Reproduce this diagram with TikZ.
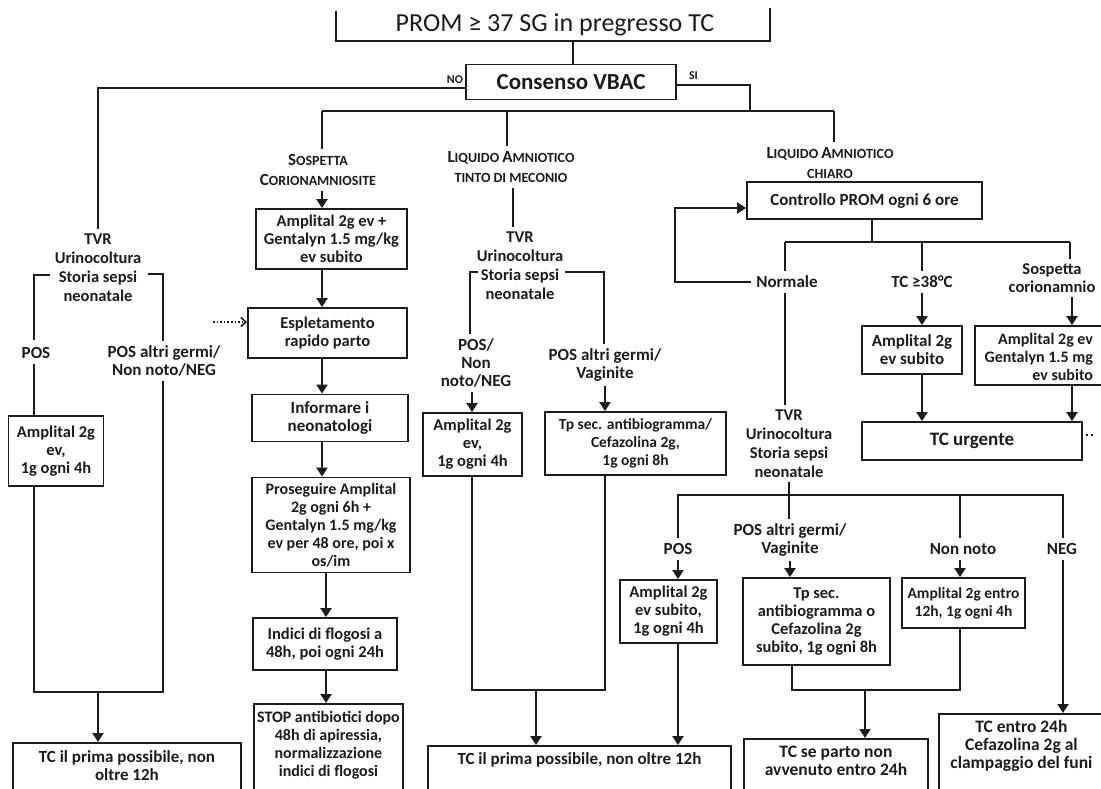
\documentclass[tikz,border=0pt]{standalone}
\usepackage{fontspec}
\setmainfont{Carlito}
\usetikzlibrary{arrows.meta}
\definecolor{ink}{HTML}{1C1C1C}
\newcommand\SCbig[1]{{\fontsize{17}{20}\selectfont #1}}
\newcommand\SCsm[1]{{\fontsize{14}{20}\selectfont #1}}
\begin{document}
\begin{tikzpicture}[x=1pt,y=-1pt,
  ln/.style={draw=ink, line width=2.3pt},
  arr/.style={ln, -{Triangle[length=9pt,width=11pt]}},
  fsz/.style={font=\bfseries\fontsize{#1}{18}\selectfont},
  bx/.style={draw=ink, line width=1.9pt, inner sep=3pt, align=center, text=ink, fsz=16.5},
  lbl/.style={inner sep=2pt, outer sep=3pt, align=center, text=ink, fsz=17},
  tvr/.style={lbl, font=\bfseries\fontsize{16.5}{19}\selectfont},
  head/.style={inner sep=2pt, outer sep=3pt, align=center, text=ink, font=\bfseries\fontsize{14}{20}\selectfont}]
\useasboundingbox (0,0) rectangle (1101,789);
\fill[white] (0,0) rectangle (1101,789);
\clip (0,0) rectangle (1101,789);

% ---------- top ----------
\node[inner sep=0pt, text=ink, font=\fontsize{26}{28}\selectfont] (title) at (555,25) {PROM ≥ 37 SG in pregresso TC};
\draw[draw=ink, line width=1.9pt] (336,11) -- (336,41) -- (770,41) -- (770,8);
\coordinate (tbot) at (573,41);
\node[bx, font=\bfseries\fontsize{23}{25}\selectfont, minimum width=210pt, minimum height=35pt] (cons) at (571,82) {Consenso VBAC};
\node[lbl, outer sep=0pt, inner sep=1pt, anchor=east, font=\bfseries\fontsize{12}{13}\selectfont] (no) at (464,80) {NO};
\node[lbl, outer sep=0pt, inner sep=1pt, anchor=west, font=\bfseries\fontsize{12}{13}\selectfont] (si) at (688,76) {SI};
\draw[ln] (tbot) -- (tbot |- cons.north);

% ---------- headings ----------
\node[head] (sosp) at (318,170) {\SCbig{S}\SCsm{OSPETTA}\\\SCbig{C}\SCsm{ORIONAMNIOSITE}};
\node[head] (liqT) at (511,167) {\SCbig{L}\SCsm{IQUIDO} \SCbig{A}\SCsm{MNIOTICO}\\\SCsm{TINTO DI MECONIO}};
\node[head] (liqC) at (830,163) {\SCbig{L}\SCsm{IQUIDO} \SCbig{A}\SCsm{MNIOTICO}\\\SCsm{CHIARO}};

% ---------- left column ----------
\node[tvr] (tvrL) at (98,268) {TVR\\Urinocoltura\\Storia sepsi\\neonatale};
\node[lbl] (posL) at (36,353) {POS};
\node[lbl] (posLR) at (164,361) {POS altri germi/\\Non noto/NEG};
\node[bx, minimum width=95pt, minimum height=70pt] (ampL) at (56,451) {Amplital 2g\\ev,\\1g ogni 4h};
\node[bx, anchor=north west, minimum width=228pt, minimum height=90pt,
  label={[lbl, anchor=north, yshift=-4pt]north:{TC il prima possibile, non\\oltre 12h}}] (tcL) at (12,742) {};

% ---------- Sospetta corionamniosite column ----------
\node[bx, minimum width=151pt, minimum height=60pt] (amp1) at (331.5,239) {Amplital 2g ev +\\Gentalyn 1.5 mg/kg\\ev subito};
\node[bx, fsz=16.5, minimum width=159pt, minimum height=50pt] (espl) at (327.5,333) {Espletamento\\rapido parto};
\node[bx, fsz=17, minimum width=156pt, minimum height=47pt] (info) at (330,418) {Informare i\\neonatologi};
\node[bx, fsz=16, minimum width=158pt, minimum height=95pt] (pros) at (331,525) {Proseguire Amplital\\2g ogni 6h +\\Gentalyn 1.5 mg/kg\\ev per 48 ore, poi x\\os/im};
\node[bx, fsz=16.5, minimum width=144pt, minimum height=52pt] (indici) at (325,644) {Indici di flogosi a\\48h, poi ogni 24h};
\node[bx, anchor=north west, minimum width=149pt, minimum height=100pt,
  label={[lbl, fsz=16, anchor=north, yshift=-3pt]north:{STOP antibiotici dopo\\48h di apiressia,\\normalizzazione\\indici di flogosi}}] (stop) at (253,703) {};

% ---------- liquido tinto column ----------
\node[tvr] (tvrM) at (520,266) {TVR\\Urinocoltura\\Storia sepsi\\neonatale};
\node[lbl] (posM) at (476,363) {POS/\\Non\\noto/NEG};
\node[lbl] (pgM) at (605,365) {POS altri germi/\\Vaginite};
\node[bx, minimum width=99pt, minimum height=63pt] (ampM) at (472.5,444.5) {Amplital 2g\\ev,\\1g ogni 4h};
\node[bx, fsz=15.5, minimum width=181pt, minimum height=63pt] (tpM) at (635.5,443.5) {Tp sec. antibiogramma/\\Cefazolina 2g,\\1g ogni 8h};
\node[bx, anchor=north west, minimum width=303pt, minimum height=80pt,
  label={[lbl, anchor=north, yshift=-3pt]north:{TC il prima possibile, non oltre 12h}}] (tcM) at (427,745) {};

% ---------- liquido chiaro column ----------
\node[bx, fsz=17, minimum width=235pt, minimum height=37pt] (ctrl) at (864.5,200.5) {Controllo PROM ogni 6 ore};
\node[lbl] (norm) at (787,282) {Normale};
\node[lbl] (tc38) at (922,282) {TC ≥38°C};
\node[lbl, fsz=16.5] (so2) at (1052,278) {Sospetta\\corionamnio};
\node[bx, fsz=17, minimum width=100pt, minimum height=48pt] (ampT) at (912,350) {Amplital 2g\\ev subito};
\node[bx, minimum width=180pt, minimum height=59pt] (ampS) at (1065,355.5) {};
\node[lbl, fsz=16, align=right, anchor=east, inner sep=0pt, outer sep=0pt] (ampSt) at (1093,357) {Amplital 2g ev\\Gentalyn 1.5 mg\\ev subito};
\node[bx, fsz=19, minimum width=220pt, minimum height=38pt] (tcU) at (972,441) {TC urgente};
\node[tvr] (tvrR) at (789,443.5) {TVR\\Urinocoltura\\Storia sepsi\\neonatale};
\node[lbl] (posR) at (678,549) {POS};
\node[lbl] (pgR) at (790,540) {POS altri germi/\\Vaginite};
\node[lbl] (nnR) at (963,549) {Non noto};
\node[lbl] (negR) at (1062,549) {NEG};
\node[bx, minimum width=97pt, minimum height=63pt] (ampP) at (668.5,611.5) {Amplital 2g\\ev subito,\\1g ogni 4h};
\node[bx, minimum width=147pt, minimum height=87pt] (tpR) at (816.5,621.5) {Tp sec.\\antibiogramma o\\Cefazolina 2g\\subito, 1g ogni 8h};
\node[bx, fsz=15.5, minimum width=123pt, minimum height=50pt] (ampE) at (963.5,603) {Amplital 2g entro\\12h, 1g ogni 4h};
\node[bx, anchor=north west, minimum width=184pt, minimum height=80pt,
  label={[lbl, fsz=17.5, anchor=north, yshift=-3pt]north:{TC se parto non\\avvenuto entro 24h}}] (tcR) at (743,738) {};
\node[bx, anchor=north west, minimum width=175pt, minimum height=100pt,
  label={[lbl, fsz=17.5, anchor=north, yshift=-2pt, xshift=-5pt]north:{TC entro 24h\\Cefazolina 2g al\\clampaggio del funi}}] (tcN) at (938,713) {};

% ---------- connectors: top ----------
\coordinate (nL) at (98,88);
\draw[ln] (cons.west |- nL) -- (nL) -- (tvrL.north);
\coordinate (siC) at (750,85);
\coordinate (jSI) at (750,111);
\coordinate (jS) at (322,111);
\coordinate (jT) at (507,111);
\coordinate (jC) at (834,111);
\draw[ln] (cons.east |- siC) -- (siC) -- (jSI);
\draw[ln] (jS) -- (jC);
\draw[ln] (jS) -- (jS |- sosp.north);
\draw[ln] (jT) -- (jT |- liqT.north);
\draw[ln] (jC) -- (jC |- liqC.north);

% ---------- connectors: left ----------
\coordinate (bL1) at (50,275);
\coordinate (bL2) at (34,275);
\coordinate (bL3) at (34,340);
\draw[ln] (bL1) -- (bL2) -- (bL3);
\draw[ln] (posL.south -| bL2) -- (bL2 |- ampL.north);
\coordinate (bR1) at (148,274);
\coordinate (bR2) at (163,274);
\draw[ln] (bR1) -- (bR2) -- (bR2 |- posLR.north);
\coordinate (jL1) at (34,692);
\coordinate (jL2) at (163,692);
\coordinate (jLm) at (98,692);
\draw[ln] (ampL.south -| jL1) -- (jL1) -- (jL2) -- (posLR.south -| jL2);
\draw[arr] (jLm) -- (jLm |- tcL.north);

% ---------- connectors: sospetta ----------
\coordinate (cS2) at (326,600);
\draw[arr] (sosp.south -| jS) -- (jS |- amp1.north);
\draw[arr] (amp1.south -| jS) -- (jS |- espl.north);
\coordinate (dotS) at (213,322);
\draw[ln, line width=1.6pt, dotted, -{Straight Barb[length=5pt,width=9pt]}] (dotS) -- (dotS -| espl.west);
\draw[arr] (espl.south -| jS) -- (jS |- info.north);
\draw[arr] (info.south -| jS) -- (jS |- pros.north);
\draw[arr] (pros.south -| cS2) -- (cS2 |- indici.north);
\draw[arr] (indici.south -| cS2) -- (cS2 |- stop.north);

% ---------- connectors: liquido tinto ----------
\coordinate (xT2) at (513,200);
\draw[ln] (liqT.south -| xT2) -- (xT2 |- tvrM.north);
\coordinate (bM1) at (478,272);
\coordinate (bM2) at (470,272);
\coordinate (bM3) at (565,272);
\coordinate (bM4) at (604,272);
\draw[ln] (bM1) -- (bM2) -- (bM2 |- posM.north);
\draw[ln] (bM3) -- (bM4) -- (bM4 |- pgM.north);
\coordinate (xM1) at (472,690);
\coordinate (xM2) at (605,690);
\coordinate (xMm) at (536,690);
\draw[arr] (posM.south -| xM1) -- (xM1 |- ampM.north);
\draw[arr] (pgM.south -| xM2) -- (xM2 |- tpM.north);
\draw[ln] (ampM.south -| xM1) -- (xM1) -- (xM2) -- (tpM.south -| xM2);
\draw[arr] (xMm) -- (xMm |- tcM.north);

% ---------- connectors: liquido chiaro ----------
\coordinate (cB) at (872,242);
\coordinate (jN) at (785,242);
\coordinate (jT38) at (922,242);
\coordinate (jSo) at (1070,242);
\coordinate (xSo) at (1072,300);
\draw[ln] (ctrl.south -| cB) -- (cB);
\draw[ln] (jN) -- (jSo);
\draw[ln] (jN) -- (jN |- norm.north);
\draw[ln] (jT38) -- (jT38 |- tc38.north);
\draw[ln] (jSo) -- (jSo |- so2.north);
\coordinate (lpx) at (675,208);
\draw[arr] (norm.west) -- (norm.west -| lpx) -- (lpx) -- (lpx -| ctrl.west);
\draw[arr] (tc38.south -| jT38) -- (jT38 |- ampT.north);
\draw[arr] (so2.south -| xSo) -- (xSo |- ampS.north);
\draw[arr] (ampT.south -| jT38) -- (jT38 |- tcU.north);
\draw[arr] (ampS.south -| xSo) -- (xSo |- tcU.north);
\coordinate (dU) at (1093,435);
\draw[draw=ink, line width=2pt, dash pattern=on 2pt off 3pt] (tcU.east |- dU) ++(3pt,0) -- (dU);
\draw[ln] (norm.south -| jN) -- (jN |- tvrR.north);
\coordinate (jP) at (678,495);
\coordinate (jNN) at (960,495);
\coordinate (jNEG) at (1063,495);
\draw[ln] (tvrR.south) -- (tvrR.south |- pgR.north);
\draw[ln] (posR.north -| jP) -- (jP) -- (jNEG) -- (jNEG |- negR.north);
\draw[ln] (jNN) -- (jNN |- nnR.north);
\draw[arr] (posR.south -| jP) -- (jP |- ampP.north);
\draw[arr] (pgR.south) -- (pgR.south |- tpR.north);
\draw[arr] (nnR.south -| jNN) -- (jNN |- ampE.north);
\draw[arr] (ampP.south -| jP) -- (jP |- tcM.north);
\coordinate (xR1) at (792,690);
\coordinate (xR2) at (960,690);
\coordinate (xRm) at (865,690);
\draw[ln] (tpR.south -| xR1) -- (xR1) -- (xR2) -- (ampE.south -| xR2);
\draw[arr] (xRm) -- (xRm |- tcR.north);
\draw[arr] (negR.south -| jNEG) -- (jNEG |- tcN.north);
\end{tikzpicture}
\end{document}
